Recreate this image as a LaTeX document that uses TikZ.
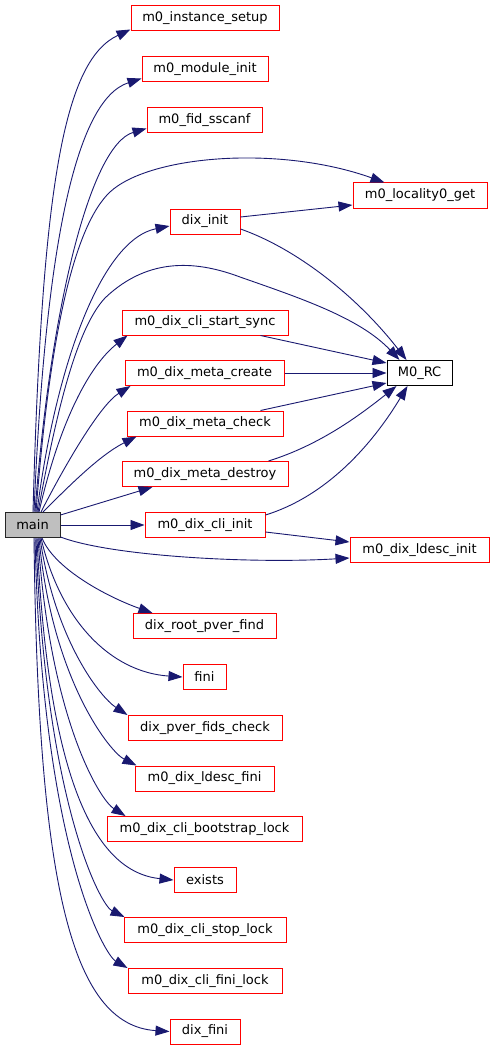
\documentclass[tikz,border=0pt]{standalone}
\usepackage{fontspec}
\setmainfont{DejaVu Sans}
\usetikzlibrary{arrows.meta}
\definecolor{edgeblue}{HTML}{191970}
\definecolor{maingray}{HTML}{BFBFBF}
\begin{document}
\begin{tikzpicture}[x=1pt,y=-1pt,
  fn/.style={draw=red, fill=white, line width=1pt, minimum height=25pt, inner sep=0pt, font=\fontsize{13}{15}\selectfont},
  rootfn/.style={fn, draw=black!85, fill=maingray},
  plainfn/.style={fn, draw=black},
  call/.style={draw=edgeblue, line width=0.9pt, -{Triangle[length=14pt,width=10pt]}}]
\useasboundingbox (0,0) rectangle (495,1051);
\fill[white] (0,0) rectangle (495,1051);

% nodes
\node[rootfn, minimum width=55pt] (main) at (32.5,525) {main};
\node[fn, minimum width=148pt] (isetup) at (205,18.5) {m0\_instance\_setup};
\node[fn, minimum width=126pt] (minit) at (205,69.5) {m0\_module\_init};
\node[fn, minimum width=115pt] (fsscanf) at (204.5,120) {m0\_fid\_sscanf};
\node[fn, minimum width=134pt] (locget) at (420,195.5) {m0\_locality0\_get};
\node[fn, minimum width=70pt] (dinit) at (205,221.5) {dix\_init};
\node[fn, minimum width=166pt] (ssync) at (205,322.5) {m0\_dix\_cli\_start\_sync};
\node[fn, minimum width=159pt] (mcreate) at (204.5,373) {m0\_dix\_meta\_create};
\node[fn, minimum width=156pt] (mcheck) at (205,423.5) {m0\_dix\_meta\_check};
\node[fn, minimum width=166pt] (mdestroy) at (205,474) {m0\_dix\_meta\_destroy};
\node[plainfn, minimum width=65pt] (rc) at (419.5,373) {M0\_RC};
\node[fn, minimum width=120pt] (cinit) at (205,525) {m0\_dix\_cli\_init};
\node[fn, minimum width=139pt] (ldinit) at (419.5,550) {m0\_dix\_ldesc\_init};
\node[fn, minimum width=143pt] (rpver) at (204.5,626) {dix\_root\_pver\_find};
\node[fn, minimum width=43pt] (fini) at (204.5,677) {fini};
\node[fn, minimum width=154pt] (pfids) at (205,728) {dix\_pver\_fids\_check};
\node[fn, minimum width=139pt] (ldfini) at (204.5,778.5) {m0\_dix\_ldesc\_fini};
\node[fn, minimum width=195pt] (bslock) at (204.5,829) {m0\_dix\_cli\_bootstrap\_lock};
\node[fn, minimum width=62pt] (exists) at (205,880) {exists};
\node[fn, minimum width=162pt] (stlock) at (205,930) {m0\_dix\_cli\_stop\_lock};
\node[fn, minimum width=154pt] (filock) at (205,981) {m0\_dix\_cli\_fini\_lock};
\node[fn, minimum width=70pt] (dfini) at (205,1031.5) {dix\_fini};

% edges from main, upwards
\draw[call] ([xshift=0.5pt]main.north) .. controls (42,180) and (65,60) .. ([yshift=2pt]isetup.south west);
\draw[call] ([xshift=1.5pt]main.north) .. controls (45,250) and (75,100) .. ([yshift=4pt]minit.south west);
\draw[call] ([xshift=2.5pt]main.north) .. controls (50,310) and (90,145) .. ([yshift=4.5pt]fsscanf.south west);
\draw[call] ([xshift=3.5pt]main.north) .. controls (50,330) and (75,225) .. (110,192)
   .. controls (150,155) and (280,145) .. ([xshift=32pt]locget.north west);
\draw[call] ([xshift=4.5pt]main.north) .. controls (55,370) and (100,240) .. ([yshift=-4.5pt]dinit.west);
\draw[call] ([xshift=5.5pt]main.north) .. controls (55,420) and (75,330) .. (105,298)
   .. controls (150,255) and (200,262) .. (240,277)
   .. controls (300,298) and (360,318) .. ([xshift=13pt]rc.north west);
\draw[call] ([xshift=6.5pt]main.north) .. controls (60,420) and (90,365) .. ([xshift=6pt]ssync.south west);
\draw[call] ([xshift=8.5pt]main.north) .. controls (65,465) and (100,405) .. ([xshift=6pt]mcreate.south west);
\draw[call] ([xshift=10.5pt]main.north) .. controls (70,485) and (100,455) .. ([xshift=10pt]mcheck.south west);
\draw[call] ([yshift=-3pt]main.north east) -- ([xshift=31pt]mdestroy.south west);
\draw[call] (main.east) -- (cinit.west);
\draw[call] ([yshift=1pt]main.south east) .. controls (110,556) and (250,564) .. ([yshift=-8pt]ldinit.west);

% edges from main, downwards
\draw[call] ([xshift=9.5pt]main.south) .. controls (55,570) and (110,598) .. ([xshift=20pt]rpver.north west);
\draw[call] ([xshift=8.5pt]main.south) .. controls (60,620) and (110,672) .. (fini.west);
\draw[call] ([xshift=7.5pt]main.south) .. controls (55,640) and (100,697) .. (pfids.north west);
\draw[call] ([xshift=6.5pt]main.south) .. controls (52,680) and (110,752) .. ([xshift=2pt]ldfini.north west);
\draw[call] ([xshift=5.5pt]main.south) .. controls (50,720) and (100,800) .. ([xshift=19pt]bslock.north west);
\draw[call] ([xshift=4.5pt]main.south) .. controls (48,780) and (95,872) .. (exists.west);
\draw[call] ([xshift=3.5pt]main.south) .. controls (45,800) and (100,905) .. ([xshift=1pt]stlock.north west);
\draw[call] ([xshift=2.5pt]main.south) .. controls (42,850) and (105,955) .. (filock.north west);
\draw[call] ([xshift=1.5pt]main.south) .. controls (38,880) and (70,1025) .. (dfini.west);

% other edges
\draw[call] ([yshift=4.5pt]dinit.east) -- ([yshift=-9.5pt]locget.west);
\draw[call] ([yshift=-7.5pt]dinit.east) .. controls (300,250) and (360,300) .. ([xshift=20pt]rc.north west);
\draw[call] ([xshift=-28pt]ssync.south east) -- ([yshift=10pt]rc.west);
\draw[call] (mcreate.east) -- (rc.west);
\draw[call] ([xshift=-23pt]mcheck.north east) -- ([yshift=-10pt]rc.west);
\draw[call] ([xshift=-20pt]mdestroy.north east) .. controls (320,445) and (360,415) .. ([xshift=10pt]rc.south west);
\draw[call] ([yshift=10pt]cinit.east) .. controls (330,495) and (375,440) .. ([xshift=21pt]rc.south west);
\draw[call] ([yshift=-7pt]cinit.east) -- ([yshift=8pt]ldinit.west);
\end{tikzpicture}
\end{document}
